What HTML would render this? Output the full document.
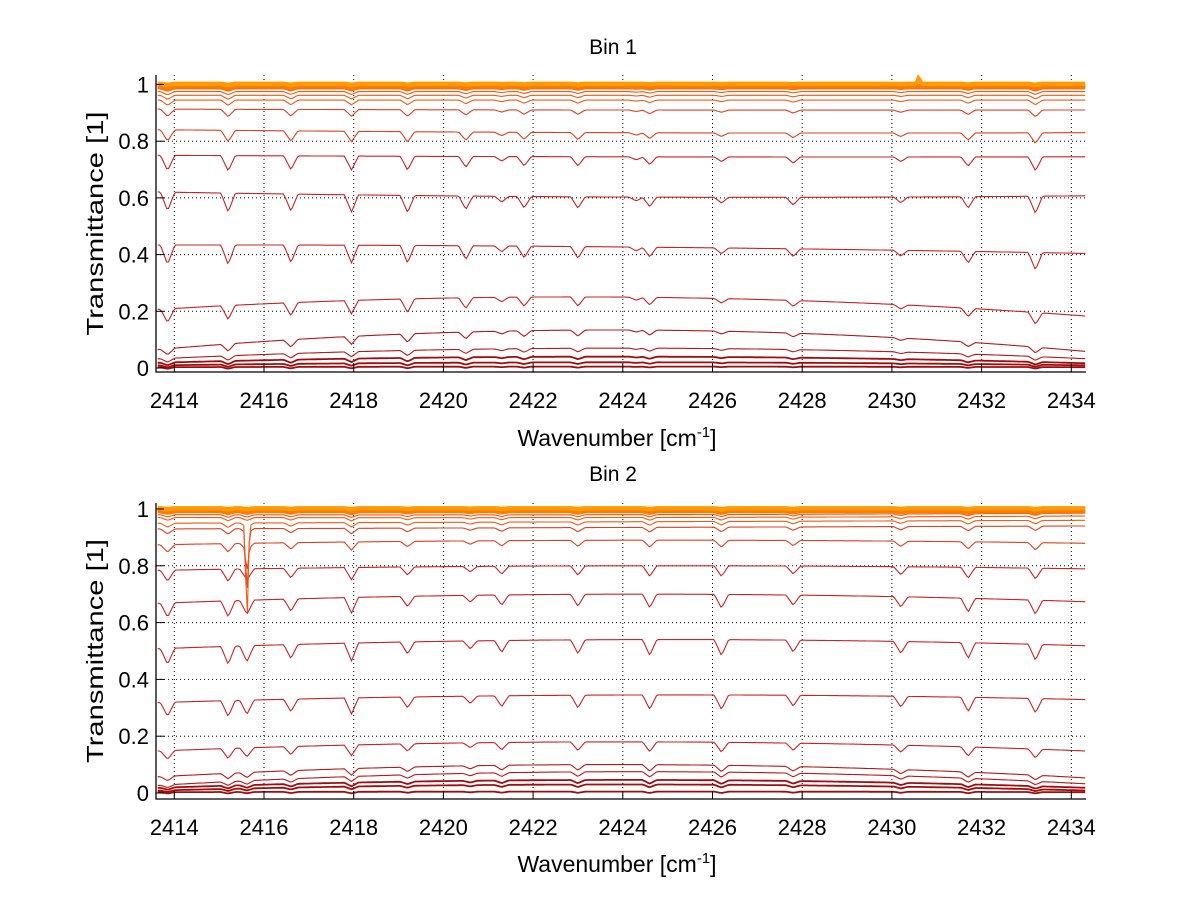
<!DOCTYPE html>
<html><head><meta charset="utf-8">
<style>
html,body{margin:0;padding:0;background:#fff;}
svg{display:block;font-family:"Liberation Sans",Arial,sans-serif;}
</style></head>
<body>
<svg id="chart" width="1200" height="901" viewBox="0 0 1200 901"></svg>
<script>
// ---- data ----
const xTicks = [2414,2416,2418,2420,2422,2424,2426,2428,2430,2432,2434];
const yTicks = [0,0.2,0.4,0.6,0.8,1];
const yTickLabels = ["0","0.2","0.4","0.6","0.8","1"];
const anchorX = [2414,2424,2434];

// Bin 1: baseline levels at 2414, 2424, 2434
const bin1Left  = [1.005,1.0,0.997,0.993,0.99,0.985,0.975,0.962,0.945,0.913,0.84,0.75,0.62,0.434,0.21,0.07,0.035,0.02,0.01,0.003];
const bin1Mid   = [1.005,1.0,0.997,0.993,0.99,0.985,0.975,0.962,0.945,0.91,0.83,0.745,0.603,0.427,0.25,0.134,0.07,0.04,0.02,0.005];
const bin1Right = [1.005,1.0,0.997,0.993,0.99,0.985,0.975,0.962,0.945,0.91,0.83,0.745,0.607,0.405,0.187,0.063,0.035,0.018,0.01,0.003];
const bin1DipPos = [2413.85,2415.2,2416.6,2417.95,2419.2,2420.5,2421.3,2421.8,2423.0,2424.3,2424.6,2426.2,2427.8,2430.2,2431.7,2433.2];
const bin1DipStr = [1.0,1.0,0.9,0.9,0.9,0.7,0.3,0.6,0.6,0.2,0.5,0.3,0.4,0.3,0.6,0.9];
const bin1SpikePos = 2430.6;
const bin1SpikeTo = [1.03,1.02,null,null,null,null,null,null,null,null,null,null,null,null,null,null,null,null,null,null];

// Bin 2
const bin2Left  = [1.005,1.0,0.997,0.993,0.99,0.98,0.97,0.95,0.93,0.875,0.785,0.67,0.51,0.32,0.15,0.06,0.03,0.02,0.01,0.003];
const bin2Mid   = [1.005,1.0,0.997,0.993,0.99,0.98,0.97,0.955,0.935,0.89,0.80,0.70,0.54,0.345,0.18,0.1,0.075,0.046,0.03,0.005];
const bin2Right = [1.005,1.0,0.997,0.993,0.99,0.985,0.975,0.96,0.94,0.88,0.79,0.675,0.52,0.33,0.15,0.056,0.035,0.02,0.01,0.003];
const bin2DipPos = [2413.85,2415.2,2415.62,2416.6,2417.95,2419.2,2420.6,2421.3,2423.0,2424.6,2426.2,2427.8,2430.2,2431.7,2433.2];
const bin2DipStr = [0.8,0.9,0.8,0.7,0.9,0.6,0.4,0.6,0.7,0.8,0.8,0.6,0.6,0.8,0.8];
const bin2SpikePos = 2415.62;
const bin2SpikeTo = [null,null,null,null,null,null,null,0.59,0.70,0.80,null,null,null,null,null,null,null,null,null,null];

// ---- layout ----
const NS = "http://www.w3.org/2000/svg";
const svg = document.getElementById("chart");
function mk(tag, attrs, parent){
  const e = document.createElementNS(NS, tag);
  for (const k in attrs) e.setAttribute(k, attrs[k]);
  (parent||svg).appendChild(e);
  return e;
}
const panels = [
  {title:"Bin 1", top:75, bottom:372, y0:368, y1:84.5, left:bin1Left, mid:bin1Mid, right:bin1Right, dp:bin1DipPos, ds:bin1DipStr, sp:bin1SpikePos, st:bin1SpikeTo, titleY:54, xlabY:446},
  {title:"Bin 2", top:503, bottom:799, y0:793, y1:509, left:bin2Left, mid:bin2Mid, right:bin2Right, dp:bin2DipPos, ds:bin2DipStr, sp:bin2SpikePos, st:bin2SpikeTo, titleY:481, xlabY:872}
];
const axL = 156, axR = 1086, xMin = 2413.63, xMax = 2434.34;
function X(v){ return 174.3 + (v-2414)*44.85; }
function lagr(a,b,c,x){
  const [x0,x1,x2]=anchorX;
  return a*(x-x1)*(x-x2)/((x0-x1)*(x0-x2)) + b*(x-x0)*(x-x2)/((x1-x0)*(x1-x2)) + c*(x-x0)*(x-x1)/((x2-x0)*(x2-x1));
}
function tri(d,w){ const a=Math.abs(d); return a<w ? 1-a/w : 0; }
function colorFor(L){
  if (L>=0.999) return "#ff9a00";
  if (L>=0.99) return "#ff7a00";
  if (L>=0.94) return "#f25a14";
  if (L>=0.8) return "#e0401e";
  if (L>=0.1) return "#cc2222";
  if (L>=0.03) return "#b81818";
  return "#a00c0c";
}

panels.forEach((p, pi) => {
  const g = mk("g", {});
  
  
  const Y = v => p.y0 - (v)*(p.y0-p.y1);

  xTicks.forEach(t => {
    const l = mk("line", {x1:X(t), x2:X(t), y1:p.top, y2:p.bottom, stroke:"#000", "stroke-width":1, "stroke-dasharray":"1,3"}, g);
    
    
  });
  yTicks.forEach(t => {
    if (t===0) return;
    const l = mk("line", {x1:axL, x2:axR, y1:Y(t), y2:Y(t), stroke:"#000", "stroke-width":1, "stroke-dasharray":"1,3"}, g);
    
    
  });

  const n = p.left.length;
  const cp = mk("clipPath", {id:"clip"+pi}, g);
  mk("rect", {x:axL, y:p.top-3, width:axR-axL, height:p.bottom-p.top+3}, cp);
  const sg = mk("g", {"clip-path":"url(#clip"+pi+")"}, g);
  for (let i=n-1;i>=0;i--){
    let d = "";
    for (let x=xMin; x<=xMax+0.001; x+=0.04){
      const b = lagr(p.left[i], p.mid[i], p.right[i], x);
      const amp = 0.26*b*(1-b) + 0.005;
      let v = b;
      for (let k=0;k<p.dp.length;k++) v -= p.ds[k]*amp*tri(x-p.dp[k],0.16);
      if (p.st[i]!==null) v -= (b - p.st[i])*tri(x-p.sp,0.06);
      d += (d?"L":"M") + X(x).toFixed(1) + "," + Y(v).toFixed(1);
    }
    const L = p.left[i];
    const path = mk("path", {d:d, fill:"none", stroke:colorFor(L), "stroke-width": L>=0.99 ? 3 : (L<0.03 ? 1.8 : 1.1)}, sg);
    
    
  }

  const ax = mk("path", {d:`M${axL},${p.top}V${p.bottom}H${axR}`, fill:"none", stroke:"#000", "stroke-width":1.3}, g);
  
  
  xTicks.forEach(t => {
    mk("line", {x1:X(t), x2:X(t), y1:p.bottom, y2:p.bottom-8, stroke:"#000", "stroke-width":1}, g);
    const tx = mk("text", {x:X(t), y:p.bottom+36, "font-size":22, "text-anchor":"middle", fill:"#000"}, g);
    tx.textContent = t;
    
    
  });
  yTicks.forEach((t,k) => {
    mk("line", {x1:axL, x2:axL+8, y1:Y(t), y2:Y(t), stroke:"#000", "stroke-width":1}, g);
    const ty = mk("text", {x:149, y:Y(t)+8, "font-size":22, "text-anchor":"end", fill:"#000"}, g);
    ty.textContent = yTickLabels[k];
    
    
  });

  const title = mk("text", {x:613, y:p.titleY, "font-size":21, "text-anchor":"middle", fill:"#000"}, g);
  title.textContent = p.title;
  
  

  const xl = mk("text", {x:617, y:p.xlabY, "font-size":23, "text-anchor":"middle", fill:"#000"}, g);
  xl.innerHTML = 'Wavenumber [cm<tspan font-size="15" dy="-9">-1</tspan><tspan dy="9">]</tspan>';
  
  

  const yc = (p.top+p.bottom)/2;
  const yl = mk("text", {x:0, y:0, "font-size":23, "text-anchor":"middle", fill:"#000", textLength:224, lengthAdjust:"spacingAndGlyphs", transform:`translate(103,${yc}) rotate(-90)`}, g);
  yl.textContent = "Transmittance [1]";
  
  
});
</script>
</body></html>
